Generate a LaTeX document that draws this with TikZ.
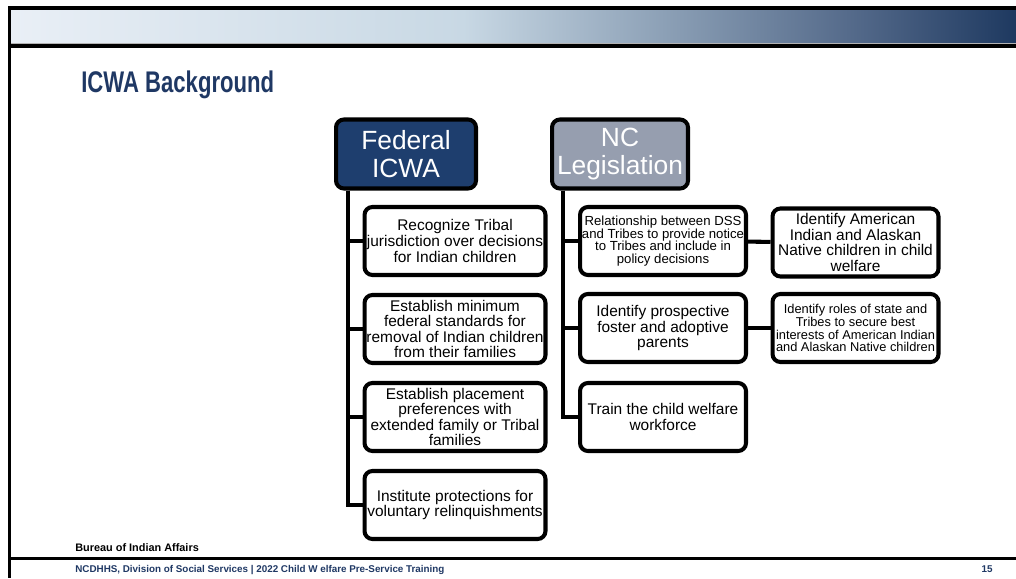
\documentclass[tikz,border=0pt]{standalone}
\usepackage{fontspec}
\setmainfont{Liberation Sans}
\newfontfamily\narrowsans[FakeStretch=0.74]{Liberation Sans}
\usepackage{tikz}
\usetikzlibrary{positioning}

\definecolor{navy}{RGB}{31,56,100}
\definecolor{fedblue}{RGB}{30,62,110}
\definecolor{ncgray}{RGB}{150,158,175}
\definecolor{bandA}{RGB}{233,239,246}
\definecolor{bandB}{RGB}{200,216,228}
\definecolor{bandC}{RGB}{140,160,182}
\definecolor{bandD}{RGB}{80,102,135}
\definecolor{bandE}{RGB}{30,57,96}
\pgfdeclarehorizontalshading{band}{100bp}{color(0bp)=(bandA); color(25bp)=(bandA); color(47.5bp)=(bandB); color(57.5bp)=(bandC); color(67.5bp)=(bandD); color(75bp)=(bandE); color(100bp)=(bandE)}

\tikzset{
	box/.style={draw=black,line width=2.3pt,rounded corners=4.5pt,align=center,inner sep=1pt},
	hdr/.style={box,minimum height=1.38cm,text=white,font=\fontsize{15}{16}\selectfont},
	item/.style={box,minimum width=3.62cm,minimum height=1.36cm,font=\fontsize{8.8}{8.9}\selectfont},
	link/.style={draw=black,line width=2.3pt}
}

\begin{document}
\begin{tikzpicture}[x=0.02cm,y=-0.02cm]
		\useasboundingbox (0,0) rectangle (1016,578);
		% frame of the slide
		\shade[shading=band] (11,10) rectangle (1016,43);
		\draw[gray!60,line width=0.6pt] (11,43.5) -- (1016,43.5);
		\draw[line width=2.3pt] (8,8) -- (1016,8);
		\draw[line width=2.3pt] (8,46) -- (1016,46);
		\draw[line width=1.7pt] (9.5,6) -- (9.5,578);
		\draw[line width=1.7pt] (8,558.5) -- (1016,558.5);

		\node[anchor=base west,inner sep=0,text=navy,font=\fontsize{17}{20}\narrowsans\bfseries] (title) at (81,92) {ICWA Background};

		% the two columns
		\node[hdr,fill=fedblue,minimum width=2.8cm] (fed) at (406,154) {Federal\\ICWA};
		\node[hdr,fill=ncgray,minimum width=2.72cm] (nc) at (620,154) {NC\\Legislation};

		\begin{scope}[every node/.style={item}]
			\node (f1) at (455,241) {Recognize Tribal\\jurisdiction over decisions\\for Indian children};
			\node (f2) at (455,329) {Establish minimum\\federal standards for\\removal of Indian children\\from their families};
			\node (f3) at (455,417) {Establish placement\\preferences with\\extended family or Tribal\\families};
			\node (f4) at (455,505) {Institute protections for\\voluntary relinquishments};
		\end{scope}

		\begin{scope}[every node/.style={item,minimum width=3.32cm}]
			\node[font=\fontsize{7.5}{7.1}\selectfont] (n1) at (663,241) {Relationship between DSS\\and Tribes to provide notice\\to Tribes and include in\\policy decisions};
			\node (n2) at (663,328) {Identify prospective\\foster and adoptive\\parents};
			\node (n3) at (663,417) {Train the child welfare\\workforce};
			\node (r1) at (855.5,242.5) {Identify American\\Indian and Alaskan\\Native children in child\\welfare};
			\node[font=\fontsize{7.3}{7.3}\selectfont] (r2) at (855.5,328) {Identify roles of state and\\Tribes to secure best\\interests of American Indian\\and Alaskan Native children};
		\end{scope}

		% connectors
		\foreach \k in {f1,f2,f3,f4}
			\draw[link] ([xshift=0.28cm]fed.south west) |- (\k.west);
		\foreach \k in {n1,n2,n3}
			\draw[link] ([xshift=0.26cm]nc.south west) |- (\k.west);
		\draw[link] (n1) -- (r1);
		\draw[link] (n2) -- (r2);

		% footer
		\node[anchor=base west,inner sep=0,font=\fontsize{6.2}{7}\selectfont\bfseries] (src) at (75,551) {Bureau of Indian Affairs};
		\node[anchor=base west,inner sep=0,text=navy,font=\fontsize{5.6}{6}\selectfont\bfseries] (foot) at (75,572) {NCDHHS, Division of Social Services | 2022 Child W elfare Pre-Service Training};
		\node[anchor=base east,inner sep=0,text=navy,font=\fontsize{5.6}{6}\selectfont\bfseries] (page) at (993,572) {15};
	\end{tikzpicture}
\end{document}
